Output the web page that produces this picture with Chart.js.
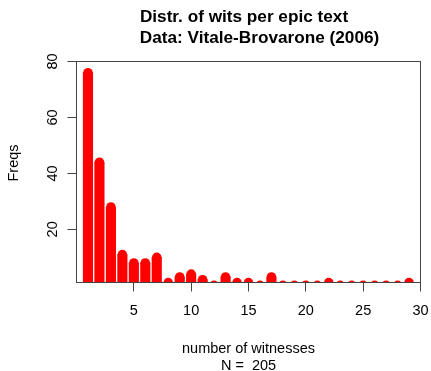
<!DOCTYPE html>
<html>
<head>
<meta charset="utf-8">
<script src="https://cdn.jsdelivr.net/npm/chart.js@4.4.1/dist/chart.umd.min.js"></script>
<style>
  html, body { margin: 0; padding: 0; background: #fff; }
  #wrap { width: 431px; height: 371px; }
</style>
</head>
<body>
<div id="wrap"><canvas id="witChart" width="431" height="371"></canvas></div>
<script>
var witnesses = [1, 2, 3, 4, 5, 6, 7, 8, 9, 10, 11, 12, 13, 14, 15, 16, 17, 18, 19, 20, 21, 22, 23, 24, 25, 26, 27, 28, 29];
var freqs = [76, 44, 28, 11, 8, 8, 10, 1, 3, 4, 2, 0, 3, 1, 1, 0, 3, 0, 0, 0, 0, 1, 0, 0, 0, 0, 0, 0, 1];
var xTicks = [5, 10, 15, 20, 25, 30];
var yTicks = [20, 40, 60, 80];
var mainTitle = ['Distr. of wits per epic text', 'Data: Vitale-Brovarone (2006)'];
var xTitle = ['number of witnesses', 'N =  205'];
var yTitle = 'Freqs';

var barColor = '#ff0000';
var axisColor = '#444';
var fontFamily = '"Liberation Sans", Arial, Helvetica, sans-serif';

Chart.defaults.font.family = fontFamily;
Chart.defaults.font.size = 14.5;
Chart.defaults.color = '#000';

// R draws type="h" lines with round ends, plus a box and centred labels
var rStyle = {
  id: 'rStyle',
  afterDatasetsDraw: function (chart) {
    var ctx = chart.ctx;
    var a = chart.chartArea;
    var meta = chart.getDatasetMeta(0);

    ctx.save();
    ctx.beginPath();
    ctx.rect(a.left, a.top, a.right - a.left, a.bottom - a.top);
    ctx.clip();
    ctx.fillStyle = barColor;
    meta.data.forEach(function (bar) {
      ctx.beginPath();
      ctx.arc(bar.x, bar.y, bar.width / 2, 0, Math.PI * 2);
      ctx.fill();
    });
    ctx.restore();

    ctx.save();
    ctx.strokeStyle = axisColor;
    ctx.lineWidth = 1;
    ctx.strokeRect(a.left, a.top, a.right - a.left, a.bottom - a.top);

    ctx.fillStyle = '#000';
    ctx.textAlign = 'center';
    ctx.textBaseline = 'alphabetic';
    ctx.font = 'bold 17.2px ' + fontFamily;
    ctx.fillText(mainTitle[0], 244, 22);
    ctx.fillText(mainTitle[1], 259.5, 42.5);

    var cx = (a.left + a.right) / 2;
    ctx.font = '14.5px ' + fontFamily;
    ctx.fillText(xTitle[0], cx, a.bottom + 70.5);
    ctx.fillText(xTitle[1], cx, a.bottom + 87.5);

    ctx.translate(17.5, (a.top + a.bottom) / 2 - 9);
    ctx.rotate(-Math.PI / 2);
    ctx.fillText(yTitle, 0, 0);
    ctx.restore();
  }
};

var ctx = document.getElementById('witChart').getContext('2d');
var chart = new Chart(ctx, {
  type: 'bar',
  data: {
    datasets: [{
      data: witnesses.map(function (w, i) { return { x: w, y: freqs[i] }; }),
      backgroundColor: barColor,
      borderWidth: 0,
      barThickness: 9.5,
      clip: 0
    }]
  },
  options: {
    responsive: false,
    animation: false,
    devicePixelRatio: 1,
    layout: { padding: { top: 61.5, right: 10.5, bottom: 0, left: 0 } },
    plugins: {
      legend: { display: false },
      title: { display: false },
      tooltip: { enabled: false }
    },
    scales: {
      x: {
        type: 'linear',
        offset: false,
        min: 0,
        max: 30,
        afterBuildTicks: function (s) { s.ticks = xTicks.map(function (v) { return { value: v }; }); },
        afterFit: function (s) {
          s.height = 88.5;
          s.paddingLeft = 0;
          s.paddingRight = 0;
        },
        grid: { offset: false, drawOnChartArea: false, drawTicks: true, tickLength: 9, color: axisColor },
        border: { display: false },
        ticks: { padding: 11, maxRotation: 0, autoSkip: false }
      },
      y: {
        type: 'linear',
        min: 1,
        max: 80,
        afterBuildTicks: function (s) { s.ticks = yTicks.map(function (v) { return { value: v }; }); },
        afterFit: function (s) {
          s.width = 76.5;
          s.paddingTop = 0;
          s.paddingBottom = 0;
        },
        grid: { drawOnChartArea: false, drawTicks: true, tickLength: 9, color: axisColor },
        border: { display: false },
        ticks: { padding: 6.5, minRotation: 90, maxRotation: 90, crossAlign: 'center' }
      }
    }
  },
  plugins: [rStyle]
});
</script>
</body>
</html>
